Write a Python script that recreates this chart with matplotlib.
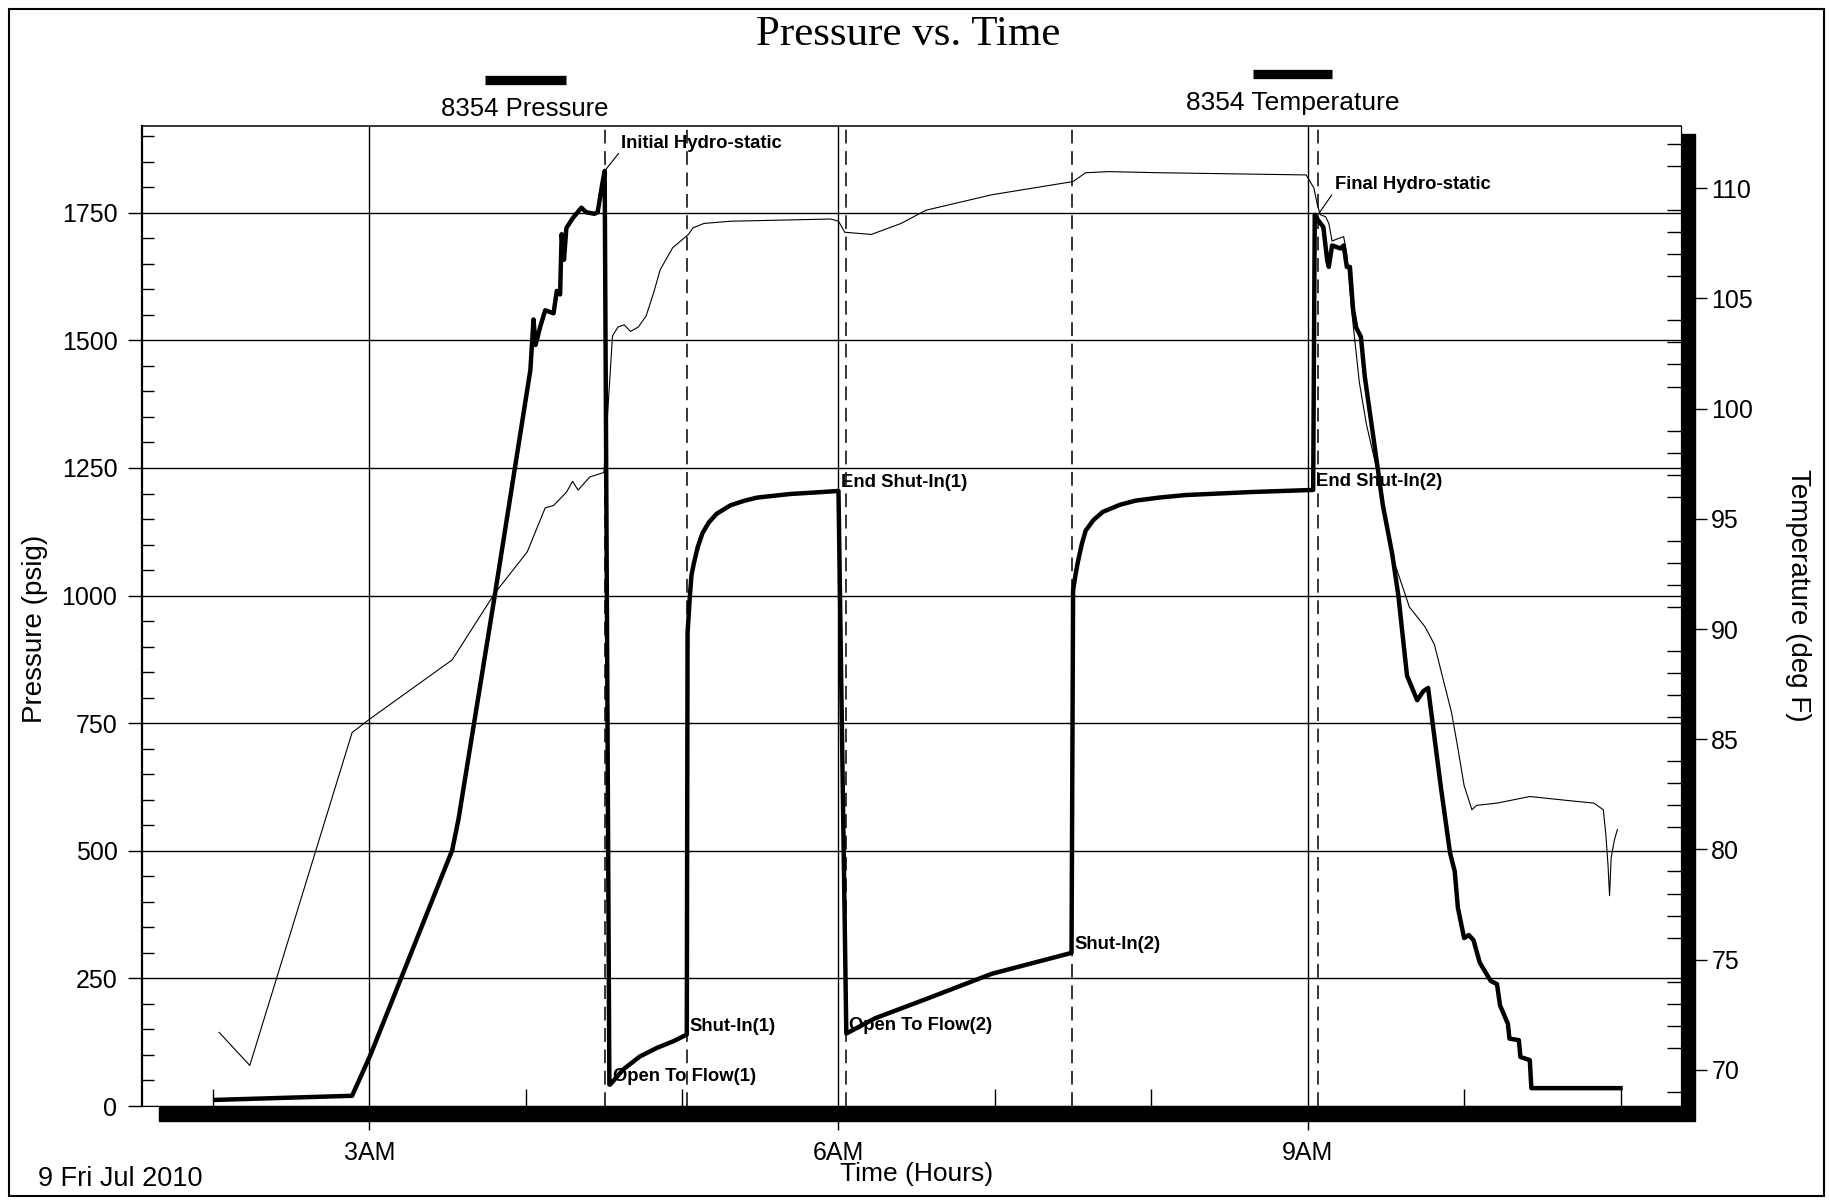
import matplotlib
matplotlib.use('Agg')
import matplotlib.pyplot as plt
from matplotlib.patches import Rectangle
from matplotlib.lines import Line2D
from matplotlib.ticker import MultipleLocator, FixedLocator

plt.rcParams['font.family'] = ['Liberation Sans', 'DejaVu Sans']

# hours after midnight, Fri 9 Jul 2010
p_time = [2.02, 2.89, 3.006, 3.53, 3.571, 3.80, 4.03, 4.05, 4.063, 4.094, 4.125, 4.178, 4.199,
          4.22, 4.23, 4.245, 4.26, 4.30, 4.356, 4.387, 4.44, 4.46, 4.49, 4.505, 4.535,
          4.54, 4.625, 4.73, 4.84, 4.945, 5.03,
          5.035, 5.05, 5.06, 5.075, 5.10, 5.13, 5.17, 5.22, 5.31, 5.40, 5.48, 5.69, 5.85, 6.0,
          6.05, 6.235, 6.555, 6.98, 7.49,
          7.50, 7.515, 7.53, 7.555, 7.58, 7.63, 7.69, 7.80, 7.90, 8.05, 8.22, 8.65, 9.035,
          9.045, 9.07, 9.10, 9.125, 9.135, 9.156, 9.21, 9.23, 9.25, 9.27, 9.29, 9.31, 9.34,
          9.365, 9.42, 9.48, 9.54, 9.58, 9.635, 9.70, 9.74, 9.77, 9.79, 9.85, 9.91, 9.94,
          9.96, 10.0, 10.03, 10.06, 10.10, 10.17, 10.21, 10.23, 10.28, 10.29, 10.35, 10.36,
          10.42, 10.43, 11.0]
p_psig = [12, 20, 99, 501, 563, 996, 1442, 1541, 1491, 1528, 1559, 1553, 1597,
          1590, 1708, 1658, 1720, 1739, 1760, 1751, 1748, 1751, 1807, 1832, 42,
          42, 72, 97, 114, 127, 140,
          927, 1000, 1040, 1063, 1095, 1122, 1143, 1160, 1177, 1186, 1192, 1199, 1202, 1205,
          142, 172, 209, 259, 300,
          1010, 1040, 1065, 1100, 1127, 1148, 1164, 1178, 1186, 1192, 1197, 1203, 1207,
          1746, 1734, 1722, 1656, 1644, 1686, 1680, 1686, 1644, 1644, 1561, 1525, 1507,
          1429, 1310, 1178, 1082, 999, 843, 795, 813, 819, 771, 628, 496, 460,
          389, 329, 335, 325, 281, 245, 239, 197, 161, 132, 129, 96,
          90, 35, 35]

t_time = [2.04, 2.236, 2.89, 3.0, 3.53, 3.80, 4.01, 4.125, 4.178, 4.26, 4.30, 4.335, 4.41, 4.50,
          4.525, 4.555, 4.59, 4.63, 4.67, 4.72, 4.77, 4.82, 4.86, 4.94, 5.04, 5.07, 5.14, 5.31, 5.95,
          6.0, 6.04, 6.21, 6.40, 6.56, 6.98, 7.50, 7.58, 7.73, 8.05, 8.99,
          9.04, 9.06, 9.08, 9.115, 9.135, 9.156, 9.19, 9.23, 9.25, 9.28, 9.33, 9.375, 9.44,
          9.50, 9.56, 9.65, 9.75, 9.81, 9.92, 9.96, 10.0, 10.05, 10.08, 10.21, 10.42, 10.69,
          10.83, 10.89, 10.906, 10.92, 10.93, 10.94, 10.96, 10.98]
t_degf = [71.7, 70.2, 85.3, 85.9, 88.6, 91.6, 93.5, 95.5, 95.6, 96.2, 96.7, 96.3, 96.9, 97.1,
          99.9, 103.3, 103.7, 103.8, 103.5, 103.7, 104.2, 105.3, 106.3, 107.3, 107.9, 108.2, 108.4,
          108.5, 108.6,
          108.5, 108.0, 107.9, 108.4, 109.0, 109.7, 110.3, 110.7, 110.75, 110.7, 110.6,
          110.0, 109.3, 108.8, 108.7, 108.4, 107.6, 107.7, 107.8, 107.0, 104.5, 101.2, 99.3, 97.3,
          95.1, 92.9, 91.0, 90.1, 89.3, 86.2, 84.6, 82.9, 81.8, 82.0, 82.1, 82.4, 82.2,
          82.1, 81.8, 80.7, 79.3, 77.9, 79.6, 80.4, 80.9]

event_names = ['Initial Hydro-static', 'Open To Flow(1)', 'Shut-In(1)', 'End Shut-In(1)',
               'Open To Flow(2)', 'Shut-In(2)', 'End Shut-In(2)', 'Final Hydro-static']
event_time = [4.505, 4.54, 5.03, 6.0, 6.05, 7.49, 9.035, 9.065]
event_psig = [1832, 42, 140, 1205, 142, 300, 1207, 1746]
# events that get a dashed marker line
marked_events = ['Initial Hydro-static', 'Shut-In(1)', 'Open To Flow(2)', 'Shut-In(2)',
                 'Final Hydro-static']

hour_ticks = [3, 6, 9]
hour_labels = ['3AM', '6AM', '9AM']

W, H = 1831, 1202
fig = plt.figure(figsize=(W / 100, H / 100), dpi=100)

# plot box in pixels (from top-left)
x0, x1, ytop, ybot = 142.5, 1681.5, 126, 1106
ax = fig.add_axes([x0 / W, 1 - ybot / H, (x1 - x0) / W, (ybot - ytop) / H])
ax.set_facecolor('white')

# drop shadow behind the plot box
sl, sr, st, sb = x0 + 17, x1 + 14, ytop + 8, ybot + 15
fig.add_artist(Rectangle((sl / W, 1 - sb / H), (sr - sl) / W, (sb - st) / H,
                         transform=fig.transFigure, color='black', zorder=-1))
# outer frame
fig.add_artist(Rectangle((9 / W, 6 / H), 1815 / W, 1187 / H, transform=fig.transFigure,
                         fill=False, edgecolor='black', lw=1.5, zorder=-2))

ax.plot(p_time, p_psig, color='black', lw=3.2)
for name, t in zip(event_names, event_time):
    if name in marked_events:
        ax.axvline(t, color='black', lw=1.1, ls=(0, (9, 5)), zorder=1)

ax.set_xlim(1.55, 11.39)
ax.set_ylim(0, 1920)
ax.yaxis.set_major_locator(MultipleLocator(250))
ax.yaxis.set_minor_locator(MultipleLocator(50))
ax.xaxis.set_major_locator(FixedLocator(hour_ticks))
ax.xaxis.set_minor_locator(MultipleLocator(1))
ax.set_xticklabels(hour_labels)
ax.grid(True, which='major', color='black', lw=1.0)
ax.set_axisbelow(True)
ax.tick_params(axis='y', which='major', direction='out', length=10, width=1, labelsize=18, pad=8)
ax.tick_params(axis='y', which='minor', direction='in', length=8.5, width=1)
ax.tick_params(axis='x', which='major', direction='out', length=17, width=1, labelsize=18, pad=8)
ax.tick_params(axis='x', which='minor', direction='in', length=12, width=1)
ax.spines['left'].set_linewidth(1.6)
ax.spines['top'].set_linewidth(1.1)

for name, t, p in zip(event_names, event_time, event_psig):
    if 'Hydro' in name:
        off = (12, 20) if name.startswith('Initial') else (12, 22)
        ax.annotate(name, (t, p), xytext=off, textcoords='offset points', ha='left', va='center',
                    fontsize=13.3, fontweight='bold',
                    arrowprops=dict(arrowstyle='-', lw=0.8, color='black', shrinkA=0, shrinkB=0,
                                    relpos=(0, 0.1)))
    else:
        ax.annotate(name, (t, p), xytext=(2, 0), textcoords='offset points', ha='left',
                    va='bottom', fontsize=13.3, fontweight='bold')

ax2 = ax.twinx()
ax2.plot(t_time, t_degf, color='black', lw=0.8)
ax2.set_ylim(68.36, 112.82)
ax2.yaxis.set_major_locator(MultipleLocator(5))
ax2.yaxis.set_minor_locator(MultipleLocator(1))
ax2.tick_params(axis='y', which='major', direction='out', length=18.5, width=1, labelsize=18, pad=3)
ax2.tick_params(axis='y', which='minor', direction='in', length=10, width=1)
for s in ['left', 'top', 'bottom']:
    ax2.spines[s].set_visible(False)

# title, legend, axis labels
fig.text(0.496, 0.9715, 'Pressure vs. Time', ha='center', va='center', fontsize=31,
         family=['Liberation Serif', 'DejaVu Serif'])
fig.add_artist(Line2D([485 / W, 566 / W], [0.9334, 0.9334], lw=6.7, color='black',
                      solid_capstyle='butt'))
fig.add_artist(Line2D([1253 / W, 1332 / W], [0.9384, 0.9384], lw=6.7, color='black',
                      solid_capstyle='butt'))
fig.text(0.2867, 0.9093, '8354 Pressure', ha='center', va='center', fontsize=18.5)
fig.text(0.7062, 0.9143, '8354 Temperature', ha='center', va='center', fontsize=19)
fig.text(0.0191, 0.477, 'Pressure (psig)', ha='center', va='center', rotation=90, fontsize=20)
fig.text(0.982, 0.505, 'Temperature (deg F)', ha='center', va='center', rotation=270, fontsize=20)
fig.text(0.5008, 0.0233, 'Time (Hours)', ha='center', va='center', fontsize=19)
fig.text(0.021, 0.019, '9 Fri Jul 2010', ha='left', va='center', fontsize=19.5)

fig.savefig('out.png', dpi=100)
